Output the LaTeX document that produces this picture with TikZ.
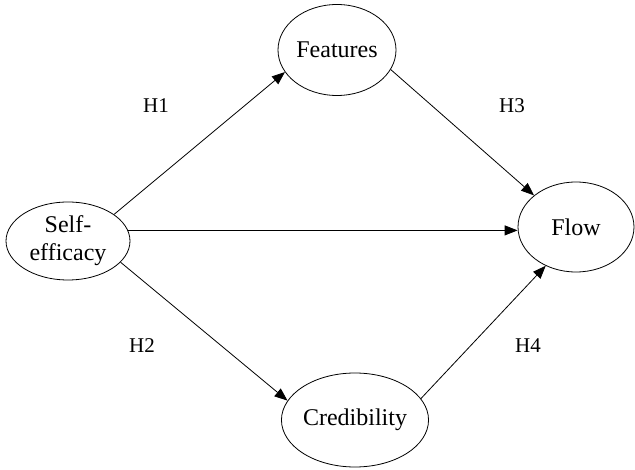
\documentclass[tikz,border=0pt]{standalone}
\usepackage{fontspec}
\setmainfont{Liberation Serif}
\usetikzlibrary{shapes.geometric,arrows.meta}
\begin{document}
\begin{tikzpicture}[x=1pt,y=-1pt,
  oval/.style={draw,ellipse,inner sep=0pt,line width=0.8pt,font=\fontsize{24}{28}\selectfont,align=center},
  link/.style={line width=0.8pt,-{Triangle[length=13pt,width=10pt]}},
  hyp/.style={font=\fontsize{21}{24}\selectfont,inner sep=0pt}]
\useasboundingbox (0,0) rectangle (635,470);
\node[oval,minimum width=124pt,minimum height=78pt] (se) at (68,241) {Self-\\efficacy};
\node[oval,minimum width=118pt,minimum height=91pt] (feat) at (337,50) {Features};
\node[oval,minimum width=116pt,minimum height=90pt] (flow) at (576,227) {Flow};
\node[oval,minimum width=120pt,minimum height=94pt] (cred) at (355,420) {Credibility};
\draw[link] (se.30) -- (feat.203);
\draw[link] (se.10) -- (se.10 -| flow.west);
\draw[link] (se.-22) -- (cred.164);
\draw[link] (feat.-20) -- (flow.143);
\draw[link] (cred.18) -- (flow.232);
\node[hyp] (h1) at (156,106) {H1};
\node[hyp] (h3) at (512,106) {H3};
\node[hyp] (h2) at (142,346) {H2};
\node[hyp] (h4) at (528,346) {H4};
\end{tikzpicture}
\end{document}
